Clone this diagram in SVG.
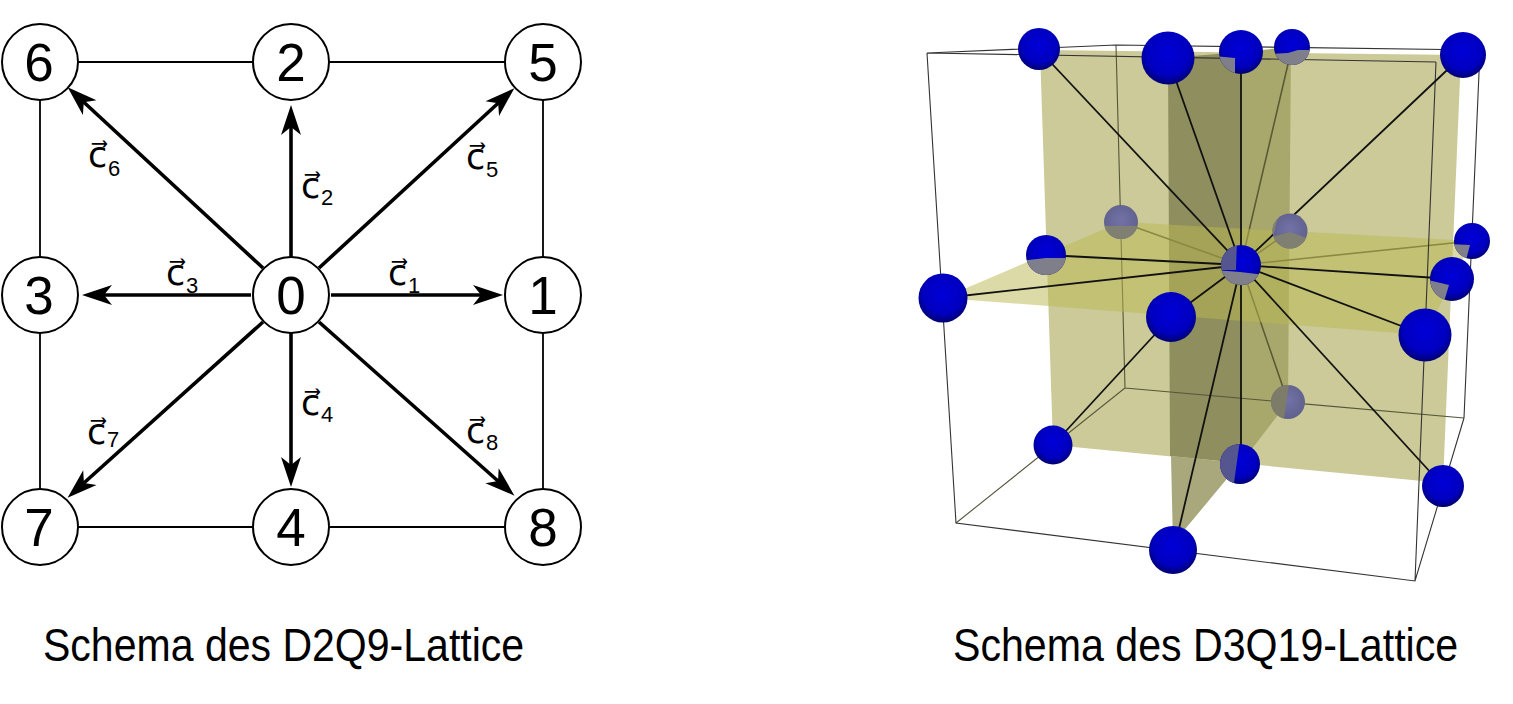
<svg xmlns="http://www.w3.org/2000/svg" width="1513" height="704" viewBox="0 0 1513 704">
<style>
text{font-family:"Liberation Sans",Arial,sans-serif;fill:#000}
.n{fill:#fff;stroke:#000;stroke-width:2}
.d{font-size:53px;text-anchor:middle}
.g{stroke:#000;stroke-width:1.8;fill:none}
.a{stroke:#000;stroke-width:3.6;fill:none;marker-end:url(#h)}
.c{font-size:35px;font-family:"DejaVu Sans",sans-serif}
.s{font-size:22px}
.cap{font-size:46px}
.bx{stroke:#333;stroke-width:1.1;fill:none}
.bk{stroke:#55553a;stroke-width:1.1;fill:none}
.sp{stroke:#111;stroke-width:1.8;fill:none}
.sb{stroke:#5a5a35;stroke-width:1.6;fill:none}
.ball{fill:url(#b)}
.back{fill:url(#bb)}
.hid{fill:#7f7f8c}
.hb{fill:#55558f}
</style>
<defs>
<marker id="h" markerUnits="userSpaceOnUse" viewBox="-32 -11 36 22" refX="-10" refY="0" markerWidth="36" markerHeight="22" orient="auto"><path d="M0,0 L-30,-10 L-22,0 L-30,10 Z" fill="#000"/></marker>
<radialGradient id="b" cx=".5" cy=".42" r=".58"><stop offset="0" stop-color="#0000d8"/><stop offset=".7" stop-color="#0000c0"/><stop offset="1" stop-color="#000070"/></radialGradient>
<radialGradient id="bb" cx=".5" cy=".45" r=".6"><stop offset="0" stop-color="#7272a8"/><stop offset="1" stop-color="#5f5f8a"/></radialGradient>
<clipPath id="cC"><circle cx="1241" cy="52" r="22"/></clipPath>
<clipPath id="cD"><circle cx="1292" cy="47" r="18"/></clipPath>
<clipPath id="cF"><circle cx="1121" cy="222" r="17"/></clipPath>
<clipPath id="cG"><circle cx="1290" cy="231" r="17.5"/></clipPath>
<clipPath id="cH"><circle cx="1046" cy="255" r="20"/></clipPath>
<clipPath id="cI"><circle cx="1241" cy="265" r="20"/></clipPath>
<clipPath id="cJ"><circle cx="1472" cy="241" r="18"/></clipPath>
<clipPath id="cK"><circle cx="1452" cy="279" r="22"/></clipPath>
<clipPath id="cO"><circle cx="1288" cy="402" r="17"/></clipPath>
<clipPath id="cQ"><circle cx="1240" cy="464" r="20"/></clipPath>
</defs>
<rect width="1513" height="704" fill="#fff"/>

<g id="d2q9-connectors">
<path class="g" d="M40,62H543V527H40Z"/>
<path class="a" d="M331,295H493"/>
<path class="a" d="M251,295H92"/>
<path class="a" d="M291,257V115"/>
<path class="a" d="M291,333V477"/>
<path class="a" d="M319,268L507,95"/>
<path class="a" d="M263,268L75,94"/>
<path class="a" d="M263,322L75,491"/>
<path class="a" d="M319,322L507,489"/>
</g>
<g id="n6"><circle class="n" cx="40" cy="62" r="38"/><text class="d" x="39" y="81">6</text></g>
<g id="n2"><circle class="n" cx="291" cy="62" r="38"/><text class="d" x="291" y="81">2</text></g>
<g id="n5"><circle class="n" cx="543" cy="62" r="38"/><text class="d" x="543" y="81">5</text></g>
<g id="n3"><circle class="n" cx="40" cy="295" r="38"/><text class="d" x="39" y="314">3</text></g>
<g id="n0"><circle class="n" cx="291" cy="295" r="38"/><text class="d" x="291" y="314">0</text></g>
<g id="n1"><circle class="n" cx="543" cy="295" r="38"/><text class="d" x="543" y="314">1</text></g>
<g id="n7"><circle class="n" cx="40" cy="527" r="38"/><text class="d" x="39" y="546">7</text></g>
<g id="n4"><circle class="n" cx="291" cy="527" r="38"/><text class="d" x="291" y="546">4</text></g>
<g id="n8"><circle class="n" cx="543" cy="527" r="38"/><text class="d" x="543" y="546">8</text></g>
<g id="d2q9-labels">
<text class="c" x="388" y="285">c⃗</text><text class="s" x="408" y="293">1</text>
<text class="c" x="301" y="198">c⃗</text><text class="s" x="321" y="205">2</text>
<text class="c" x="166" y="285">c⃗</text><text class="s" x="186" y="293">3</text>
<text class="c" x="301" y="415">c⃗</text><text class="s" x="321" y="422">4</text>
<text class="c" x="466" y="169">c⃗</text><text class="s" x="486" y="177">5</text>
<text class="c" x="88" y="167">c⃗</text><text class="s" x="108" y="176">6</text>
<text class="c" x="87" y="444">c⃗</text><text class="s" x="107" y="447">7</text>
<text class="c" x="466" y="443">c⃗</text><text class="s" x="486" y="450">8</text>
</g>
<text class="cap" transform="translate(43,661) scale(.892,1)">Schema des D2Q9-Lattice</text>

<g id="planes">
<path fill="#cbca98" d="M1040,50L1461,55L1443,483L1053,445Z"/>
<path fill="#8f8e5e" d="M1168,58L1241,52L1241,463L1170,456Z"/>
<path fill="#a9a86c" d="M1241,52L1291,47L1288,402L1241,463Z"/>
<path fill="#a8a87c" d="M1171,456L1240,463L1186,528L1173,545Z"/>
</g>
<g id="box-back">
<path class="bk" d="M1116,45L1125,388L956,523M1125,388L1464,418"/>
</g>
<g id="spokes-back">
<path class="sb" d="M1241,265L1121,222M1241,265L1290,231M1241,265L1292,47M1241,265L1288,402M1241,265L1472,241"/>
</g>
<path id="plane-h" fill="#b9b750" fill-opacity=".5" d="M943,298L1121,222L1472,241L1425,335Z"/>
<g id="box-front">
<path class="bx" d="M927,53L1116,45L1480,50M927,53L1436,62M927,53L956,523L1415,581L1464,418M1480,50L1464,418M1436,62L1415,581"/>
</g>
<g id="spokes">
<path class="sp" d="M1241,265L943,298M1241,265L1046,255M1241,265L1171,317M1241,265L1425,335M1241,265L1452,279M1241,265L1463,55M1241,265L1168,58M1241,265V52M1241,265L1174,550M1241,265V464"/>
<path class="sp" d="M1171,317L1053,445"/>
<path class="sp" d="M1241,265L1039,50"/>
<path class="sp" d="M1241,265L1443,486"/>
</g>
<g id="spheres">
<circle id="sF" class="back" cx="1121" cy="222" r="17"/><path clip-path="url(#cF)" d="M1100,226L1140,226V245H1100Z" fill="#7f7f72"/>
<circle id="sG" class="back" cx="1290" cy="231" r="17.5"/><path clip-path="url(#cG)" d="M1268,238L1290,232L1312,240V255H1268Z" fill="#7f7f72"/><path clip-path="url(#cG)" d="M1268,210H1280L1272,240H1268Z" fill="#7f7f72"/>
<circle id="sO" class="back" cx="1288" cy="402" r="17"/><path clip-path="url(#cO)" d="M1268,385H1289L1283,425H1268Z" fill="#7c7c68"/>
<circle id="sA" class="ball" cx="1039" cy="49" r="21"/>
<circle id="sB" class="ball" cx="1168" cy="58" r="26.5"/>
<circle id="sC" class="ball" cx="1241" cy="52" r="22"/><path class="hid" clip-path="url(#cC)" d="M1215,56L1235,58L1235,80H1215Z"/>
<circle id="sD" class="ball" cx="1292" cy="47" r="18"/><path class="hid" clip-path="url(#cD)" d="M1270,54L1288,53L1298,50V70H1270Z M1298,50H1315V70H1298Z"/>
<circle id="sE" class="ball" cx="1463" cy="55" r="23"/>
<circle id="sH" class="ball" cx="1046" cy="255" r="20"/><path class="hid" clip-path="url(#cH)" d="M1020,261L1046,258L1070,258V280H1020Z"/>
<circle id="sI" class="ball" cx="1241" cy="265" r="20"/><path class="hb" clip-path="url(#cI)" d="M1215,240H1237L1236,270H1215Z"/><path class="hid" clip-path="url(#cI)" d="M1215,270L1240,272L1265,275V290H1215Z"/>
<circle id="sJ" class="ball" cx="1472" cy="241" r="18"/><path class="hid" clip-path="url(#cJ)" d="M1450,244L1470,245L1465,264H1450Z"/>
<circle id="sK" class="ball" cx="1452" cy="279" r="22"/><path class="hid" clip-path="url(#cK)" d="M1428,280L1449,285L1443,305H1428Z"/>
<circle id="sL" class="ball" cx="943" cy="298" r="24.5"/>
<circle id="sM" class="ball" cx="1171" cy="317" r="25"/>
<circle id="sN" class="ball" cx="1425" cy="335" r="26.5"/>
<circle id="sP" class="ball" cx="1053" cy="445" r="19.5"/>
<circle id="sQ" class="ball" cx="1240" cy="464" r="20"/><path class="hb" clip-path="url(#cQ)" d="M1215,440H1240L1233,490H1215Z"/>
<circle id="sR" class="ball" cx="1443" cy="486" r="21"/>
<circle id="sS" class="ball" cx="1173" cy="550" r="24"/>
</g>
<text class="cap" transform="translate(953,661) scale(.894,1)">Schema des D3Q19-Lattice</text>
</svg>
